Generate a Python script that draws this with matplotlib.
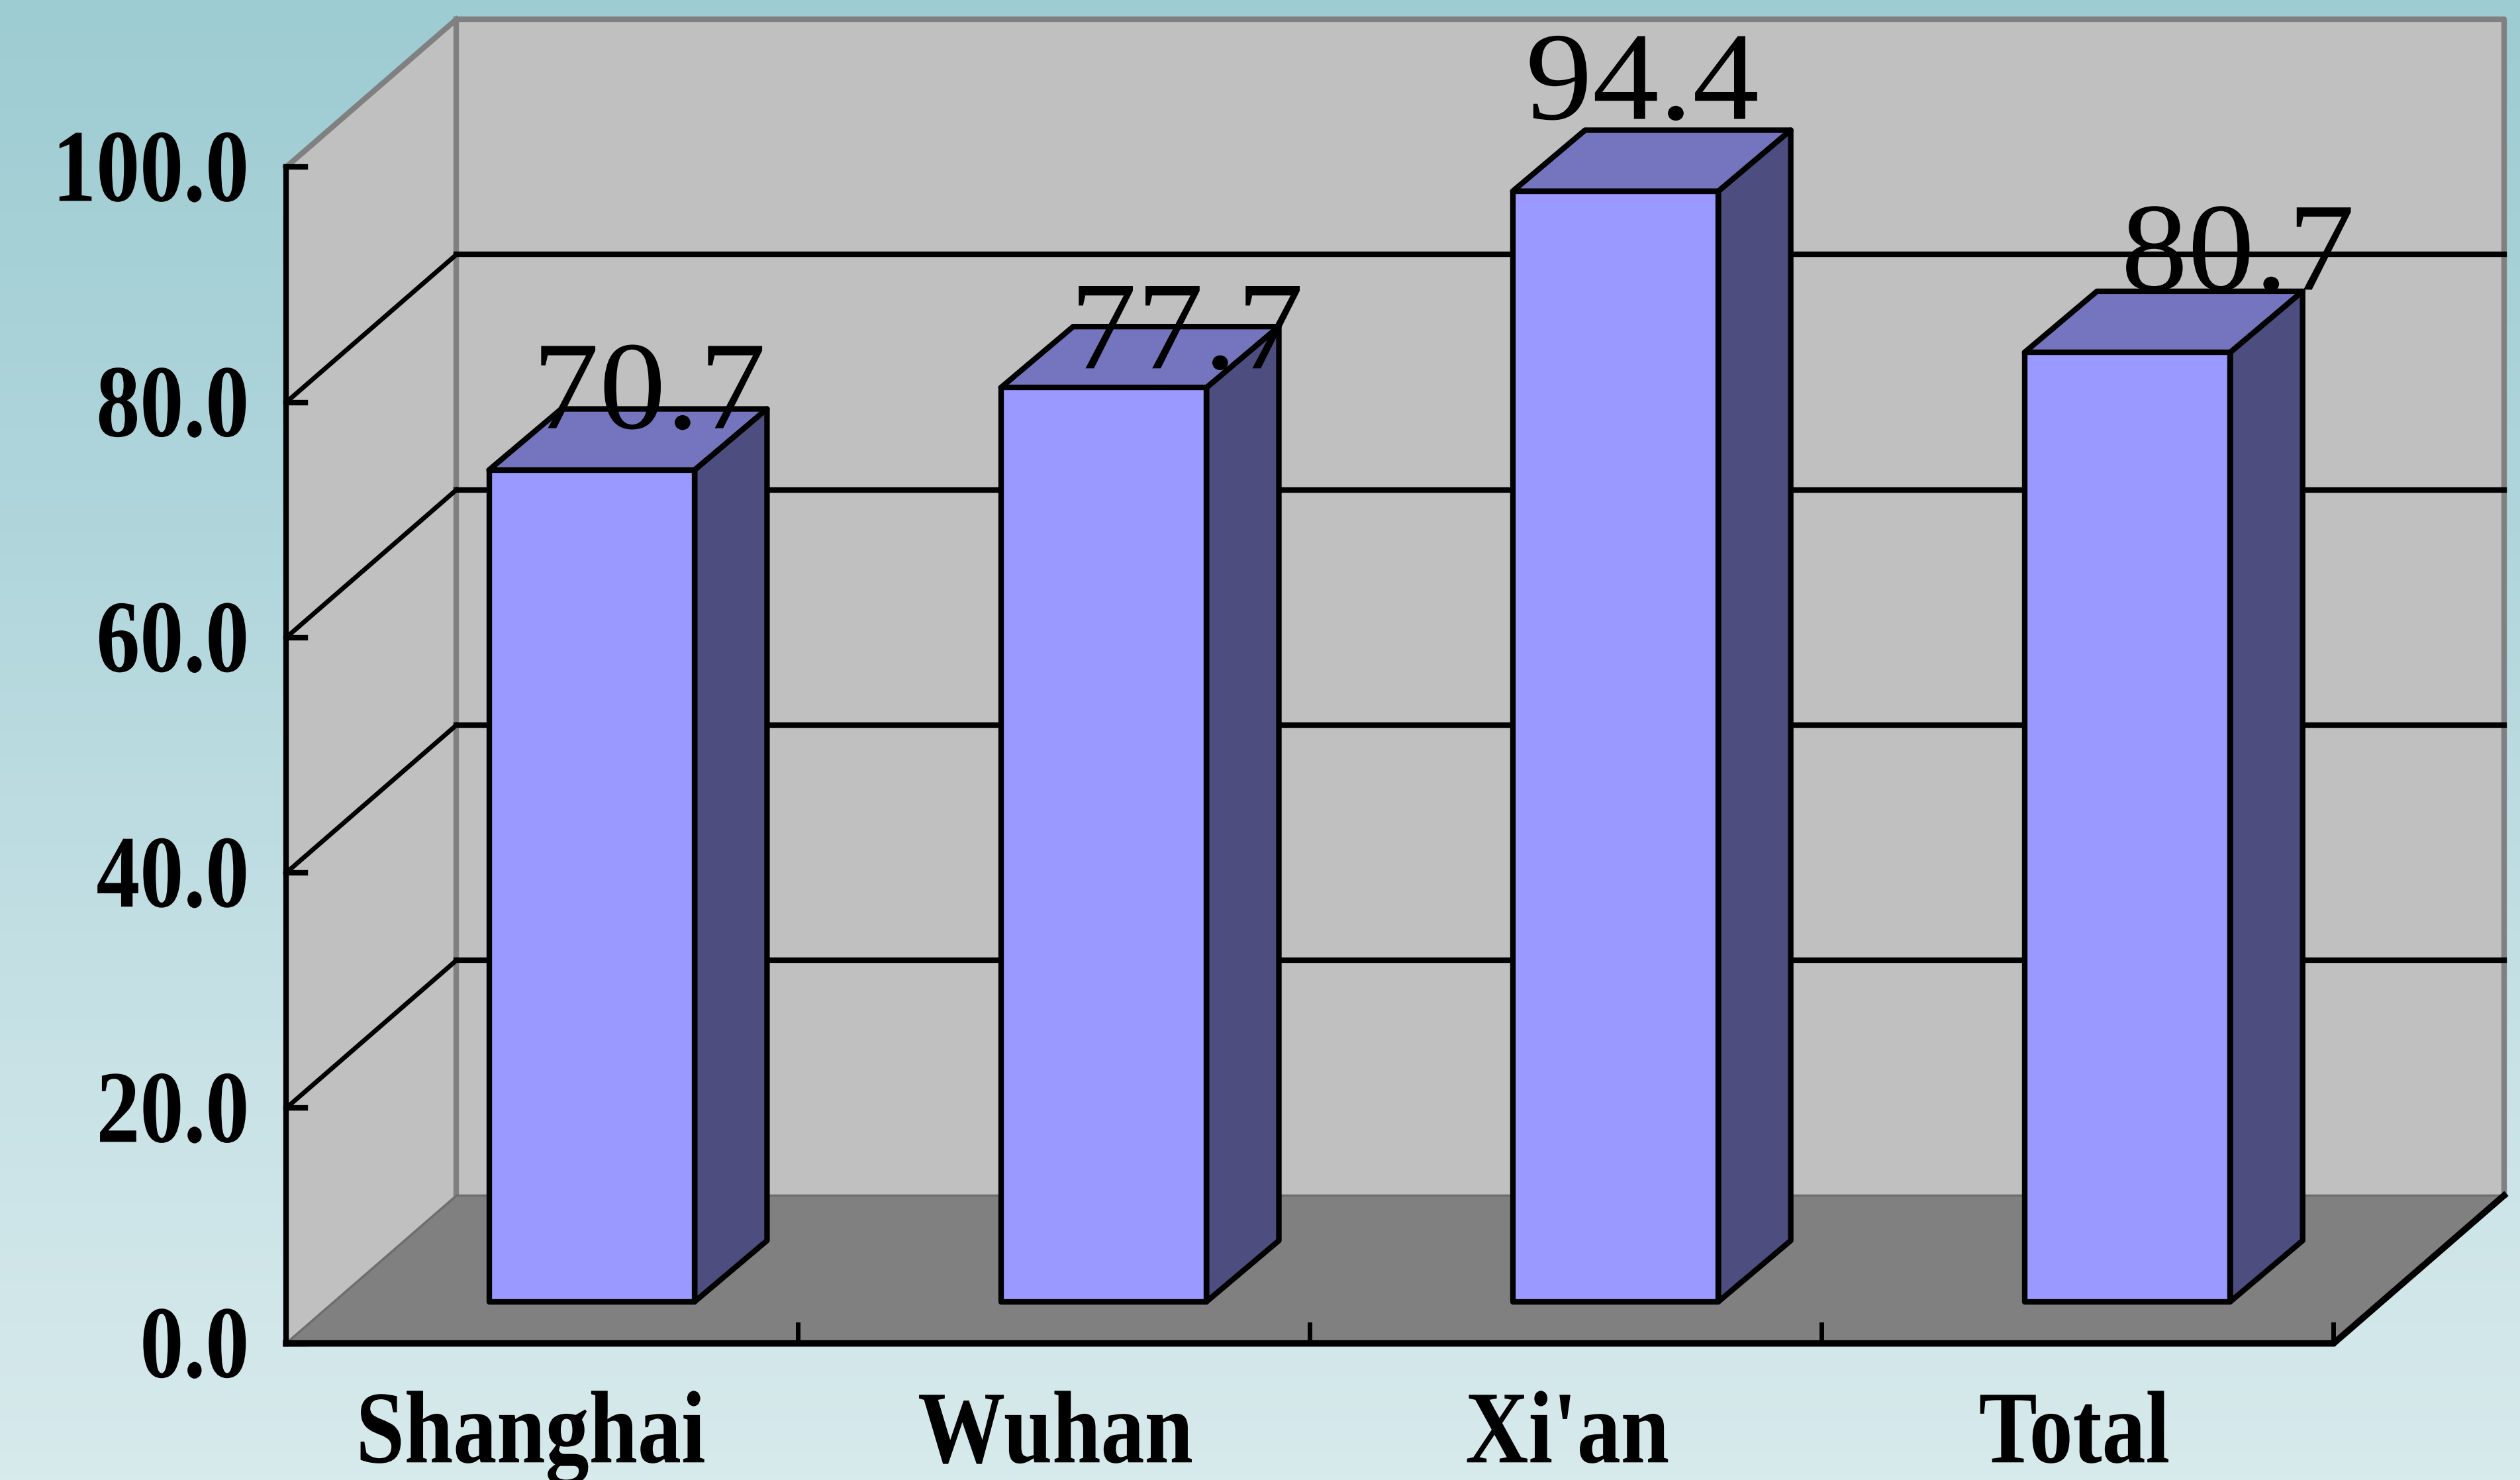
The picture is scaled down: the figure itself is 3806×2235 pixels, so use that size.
import numpy as np
import matplotlib
matplotlib.use("Agg")
import matplotlib.pyplot as plt
from matplotlib.patches import Polygon
from matplotlib.patheffects import AbstractPathEffect
from matplotlib.transforms import Affine2D
from matplotlib.colors import LinearSegmentedColormap

categories = ["Shanghai", "Wuhan", "Xi'an", "Total"]
values = [70.7, 77.7, 94.4, 80.7]
y_ticks = [0, 20, 40, 60, 80, 100]

# layout (in reference display units: 1568 wide image)
PX0, PY0, CAT_W, UNIT = 178.0, 836.0, 318.5, 7.32
DX, DY = 106 / CAT_W, 92 / UNIT          # wall depth in data units
BAR_W = 128 / CAT_W
BAR_OFF_X, BAR_OFF_Y = 31 / CAT_W, 26 / UNIT  # bar front plane offset
BAR_DX, BAR_DY = 45 / CAT_W, 38 / UNIT   # bar depth
LABEL_DX = [27, 43, 8, 60]               # label left relative to bar left
LABEL_DY = [26, 12, 45, 39]              # label baseline above bar top
CAT_SHIFT = [-7, 1, 1, -2]               # category label shift


class Stretch(AbstractPathEffect):
    """Scale glyph outlines around the text origin (tall condensed look)."""
    def __init__(self, sx=1.0, sy=1.0):
        super().__init__()
        self.sx, self.sy = sx, sy

    def draw_path(self, renderer, gc, tpath, affine, rgbFace=None):
        renderer.draw_path(gc, tpath, Affine2D().scale(self.sx, self.sy) + affine, rgbFace)


fig = plt.figure(figsize=(38.06, 22.35), dpi=100)
ax = fig.add_axes([0, 0, 1, 1])
ax.set_xlim(-PX0 / CAT_W, (1568 - PX0) / CAT_W)
ax.set_ylim((PY0 - 921) / UNIT, PY0 / UNIT)
ax.axis("off")

# background gradient
cmap = LinearSegmentedColormap.from_list(
    "bg", [(0, "#9DCCD2"), (0.36, "#B0D6DC"), (0.72, "#C8E2E6"), (1, "#D7EAEC")])
ax.imshow(np.linspace(0, 1, 512)[:, None], cmap=cmap, aspect="auto",
          extent=[*ax.get_xlim(), *ax.get_ylim()], origin="upper", zorder=0)

n = len(categories)
ymax = y_ticks[-1]
GRAY, BLACK = "#808080", "black"
LW = 6.0

# walls and floor
ax.add_patch(Polygon([(0, 0), (DX, DY), (DX, ymax + DY), (0, ymax)], fc="#C0C0C0", ec="none", zorder=1))
ax.add_patch(Polygon([(DX, DY), (n + DX, DY), (n + DX, ymax + DY), (DX, ymax + DY)], fc="#C0C0C0", ec="none", zorder=1))
ax.add_patch(Polygon([(0, 0), (n, 0), (n + DX, DY), (DX, DY)], fc="#808080", ec="none", zorder=1))

# wall edges
ax.plot([0, DX], [ymax, ymax + DY], color=GRAY, lw=LW, zorder=2)
ax.plot([DX, n + DX, n + DX], [ymax + DY, ymax + DY, DY], color=GRAY, lw=LW, zorder=2)
ax.plot([DX, DX], [DY, ymax + DY], color=GRAY, lw=LW, zorder=2)
ax.plot([0, DX, n + DX], [0, DY, DY], color="#6E6E6E", lw=2.5, zorder=2)

# gridlines
for t in y_ticks[1:-1]:
    ax.plot([0, DX], [t, t + DY], color=BLACK, lw=LW - 1, zorder=3)
    ax.plot([DX, n + DX], [t + DY, t + DY], color=BLACK, lw=LW, zorder=3)

# axes
ax.plot([0, 0], [0, ymax], color=BLACK, lw=LW, zorder=4, solid_capstyle="projecting")
ax.plot([0, n, n + DX], [0, 0, DY], color=BLACK, lw=LW + 1, zorder=4, solid_joinstyle="miter")
for t in y_ticks:
    ax.plot([0, 12 / CAT_W], [t, t], color=BLACK, lw=LW, zorder=4)
for i in range(1, n + 1):
    ax.plot([i, i], [0, 12 / UNIT], color=BLACK, lw=LW - 1, zorder=4)

# bars
for i, v in enumerate(values):
    x0 = i + 0.5 + BAR_OFF_X - BAR_W / 2
    x1 = x0 + BAR_W
    y0 = BAR_OFF_Y
    y1 = BAR_OFF_Y + v
    kw = dict(ec=BLACK, lw=LW, joinstyle="round", zorder=5)
    ax.add_patch(Polygon([(x0, y1), (x1, y1), (x1 + BAR_DX, y1 + BAR_DY), (x0 + BAR_DX, y1 + BAR_DY)], fc="#7575BF", **kw))
    ax.add_patch(Polygon([(x1, y0), (x1 + BAR_DX, y0 + BAR_DY), (x1 + BAR_DX, y1 + BAR_DY), (x1, y1)], fc="#4D4D80", **kw))
    ax.add_patch(Polygon([(x0, y0), (x1, y0), (x1, y1), (x0, y1)], fc="#9999FF", **kw))
    ax.text(x0 + LABEL_DX[i] / CAT_W, y1 + LABEL_DY[i] / UNIT, f"{v:.1f}",
            family="Liberation Serif", fontsize=122, color=BLACK, ha="left", va="baseline", zorder=6,
            path_effects=[Stretch(1.19, 1.12)])

# tick labels
bold = dict(family="Liberation Serif", weight="bold", fontsize=95, color=BLACK, va="baseline", zorder=6,
            path_effects=[Stretch(1.0, 1.18)])
for t in y_ticks:
    ax.text(-23 / CAT_W, t - 21 / UNIT, f"{t:.1f}", ha="right", **bold)
for i, c in enumerate(categories):
    ax.text(i + 0.5 + CAT_SHIFT[i] / CAT_W, -74 / UNIT, c, ha="center", **bold)

fig.savefig("out.png", dpi=100)
